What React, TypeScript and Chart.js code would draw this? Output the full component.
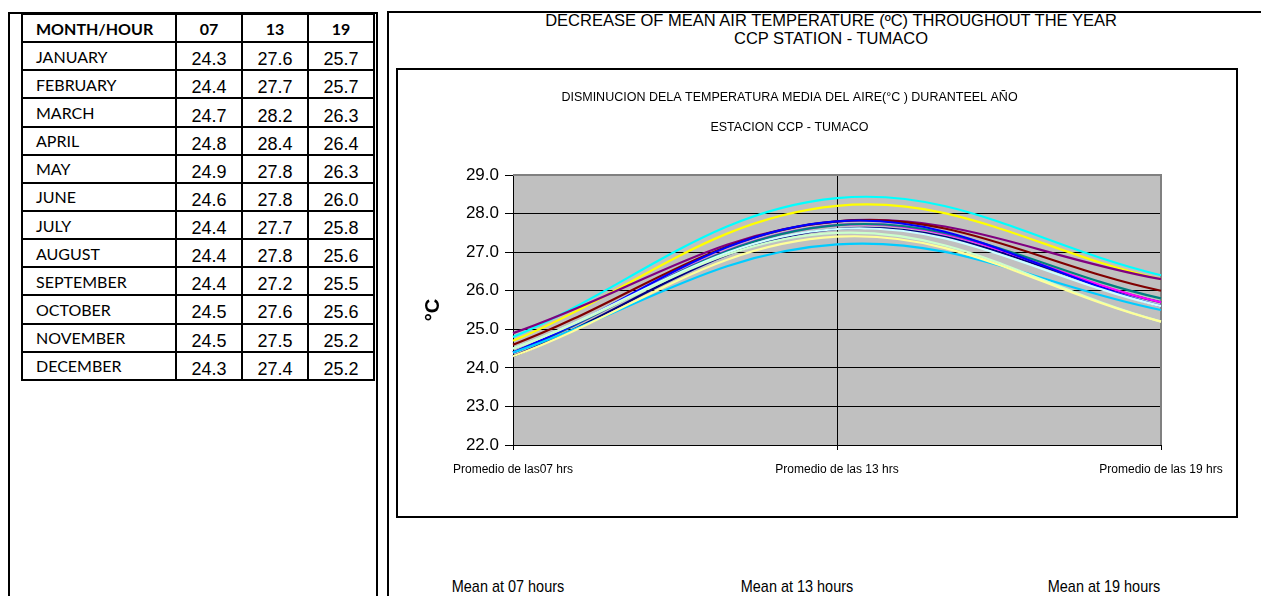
import React, { useEffect, useRef } from "react";
import { Chart, registerables } from "chart.js";

Chart.register(...registerables);

const months = ["JANUARY", "FEBRUARY", "MARCH", "APRIL", "MAY", "JUNE", "JULY", "AUGUST", "SEPTEMBER", "OCTOBER", "NOVEMBER", "DECEMBER"];
const hourHeaders = ["07", "13", "19"];
const xCategories = ["Promedio de las07 hrs", "Promedio de las 13 hrs", "Promedio de las 19 hrs"];
const meanLabels = ["Mean at 07 hours", "Mean at 13 hours", "Mean at 19 hours"];
const at07 = [24.3, 24.4, 24.7, 24.8, 24.9, 24.6, 24.4, 24.4, 24.4, 24.5, 24.5, 24.3];
const at13 = [27.6, 27.7, 28.2, 28.4, 27.8, 27.8, 27.7, 27.8, 27.2, 27.6, 27.5, 27.4];
const at19 = [25.7, 25.7, 26.3, 26.4, 26.3, 26.0, 25.8, 25.6, 25.5, 25.6, 25.2, 25.2];
const seriesColors = ["#000080", "#FF00FF", "#FFFF00", "#00FFFF", "#800080", "#800000", "#008080", "#0000FF", "#00CCFF", "#CCFFFF", "#CCFFCC", "#FFFF99"];
const yMin = 22;
const yMax = 29;

const mainTitle = ["DECREASE OF MEAN AIR TEMPERATURE (ºC) THROUGHOUT THE YEAR", "CCP STATION - TUMACO"];
const innerTitle = "DISMINUCION DELA TEMPERATURA MEDIA DEL AIRE(°C ) DURANTEEL AÑO";
const innerSubtitle = "ESTACION CCP - TUMACO";

const ARIAL = "'Liberation Sans', Arial, sans-serif";
const CALIBRI = "Lato, 'Open Sans', sans-serif";

const plotBg = {
  id: "plotBg",
  beforeDraw(chart: any) {
    const { ctx, chartArea } = chart;
    const { left, top, right, bottom } = chartArea;
    ctx.save();
    ctx.fillStyle = "#C0C0C0";
    ctx.fillRect(left, top, right - left, bottom - top);
    ctx.restore();
  },
  beforeDatasetsDraw(chart: any) {
    const { ctx, chartArea } = chart;
    const { left, top, right, bottom } = chartArea;
    ctx.save();
    ctx.strokeStyle = "#808080";
    ctx.lineWidth = 2;
    ctx.beginPath();
    ctx.moveTo(left, top);
    ctx.lineTo(right, top);
    ctx.lineTo(right, bottom);
    ctx.stroke();
    ctx.restore();
  },
};

export default function App() {
  const canvasRef = useRef<HTMLCanvasElement>(null);

  useEffect(() => {
    if (!canvasRef.current) return;
    const datasets = months.map((m, i) => ({
      label: m,
      data: [at07[i], at13[i], at19[i]],
      borderColor: seriesColors[i],
      backgroundColor: seriesColors[i],
      borderWidth: 2.2,
      pointRadius: 0,
      tension: 0.38,
      fill: false,
      order: months.length - 1 - i,
    }));
    const chart = new Chart(canvasRef.current, {
      type: "line",
      data: { labels: xCategories, datasets },
      plugins: [plotBg],
      options: {
        animation: false,
        responsive: false,
        devicePixelRatio: 1,
        layout: { padding: { left: 20, right: 75, top: 0, bottom: 0 } },
        plugins: {
          legend: { display: false },
          tooltip: { enabled: false },
          title: {
            display: true,
            text: innerTitle,
            color: "#000",
            font: { family: ARIAL, size: 12.5, weight: "normal" },
            padding: { top: 20, bottom: 8 },
          },
          subtitle: {
            display: true,
            text: innerSubtitle,
            color: "#000",
            font: { family: ARIAL, size: 12.5, weight: "normal" },
            padding: { top: 7, bottom: 40 },
          },
        },
        scales: {
          x: {
            offset: false,
            afterFit: (scale: any) => {
              scale.height = 71;
            },
            grid: {
              color: (ctx: any) => (ctx.index === 1 ? "#000" : "rgba(0,0,0,0)"),
              tickColor: "#000",
              tickLength: 5,
              lineWidth: 1,
            },
            border: { color: "#000", width: 1 },
            ticks: {
              color: "#000",
              font: { family: ARIAL, size: 12 },
              padding: 12,
              maxRotation: 0,
              autoSkip: false,
            },
          },
          y: {
            min: yMin,
            max: yMax,
            afterFit: (scale: any) => {
              scale.width = 95;
            },
            grid: {
              color: (ctx: any) => (ctx.tick && ctx.tick.value === yMax ? "rgba(0,0,0,0)" : "#000"),
              tickColor: "#000",
              tickLength: 8,
              lineWidth: 1,
            },
            border: { color: "#000", width: 1 },
            ticks: {
              stepSize: 1,
              color: "#000",
              padding: 6,
              font: { family: ARIAL, size: 17 },
              callback: (v: any) => Number(v).toFixed(1),
            },
            title: {
              display: true,
              text: "°C",
              color: "#000",
              font: { family: ARIAL, size: 20, weight: "bold" },
              padding: { top: 3, bottom: 0 },
            },
          },
        },
      },
    } as any);
    return () => chart.destroy();
  }, []);

  const line = (left: number, top: number, width: number, height: number, key: string) => (
    <div key={key} style={{ position: "absolute", left, top, width, height, background: "#000" }} />
  );

  const cell: React.CSSProperties = {
    borderRight: "2px solid #000",
    borderBottom: "2px solid #000",
    boxSizing: "border-box",
    display: "flex",
    alignItems: "center",
    overflow: "hidden",
    whiteSpace: "nowrap",
  };

  const cells: React.ReactNode[] = [];
  cells.push(
    <div key="h0" style={{ ...cell, paddingLeft: 13, fontFamily: CALIBRI, fontWeight: 700, fontSize: 16 }}>MONTH/HOUR</div>
  );
  hourHeaders.forEach((h, j) =>
    cells.push(
      <div key={"h" + (j + 1)} style={{ ...cell, justifyContent: "center", fontFamily: CALIBRI, fontWeight: 700, fontSize: 16 }}>{h}</div>
    )
  );
  months.forEach((m, i) => {
    cells.push(
      <div key={"m" + i} style={{ ...cell, paddingLeft: 13, fontFamily: CALIBRI, fontSize: 16 }}>{m}</div>
    );
    [at07[i], at13[i], at19[i]].forEach((v, j) =>
      cells.push(
        <div key={"v" + i + "_" + j} style={{ ...cell, justifyContent: "center", paddingTop: 7, fontFamily: ARIAL, fontSize: 18 }}>{v.toFixed(1)}</div>
      )
    );
  });

  return (
    <div style={{ position: "absolute", left: 0, top: 0, width: 1261, height: 596, overflow: "hidden", background: "#fff", color: "#000" }}>
      {line(8, 12, 370, 2, "t1")}
      {line(8, 12, 2, 584, "l1")}
      {line(376, 12, 2, 584, "r1")}
      {line(387, 11, 874, 2, "t2")}
      {line(387, 11, 2, 585, "l2")}

      <div
        style={{
          position: "absolute",
          left: 21,
          top: 13,
          display: "grid",
          gridTemplateColumns: "154px 66px 66px 66px",
          gridAutoRows: "28.15px",
          borderTop: "2px solid #000",
          borderLeft: "2px solid #000",
          color: "#000",
        }}
      >
        {cells}
      </div>

      <div
        style={{
          position: "absolute",
          left: 481,
          top: 11,
          width: 700,
          textAlign: "center",
          fontFamily: ARIAL,
          fontSize: 16.5,
          lineHeight: "18px",
        }}
      >
        <div>{mainTitle[0]}</div>
        <div>{mainTitle[1]}</div>
      </div>

      <div
        style={{
          position: "absolute",
          left: 396,
          top: 68,
          width: 842,
          height: 450,
          border: "2px solid #000",
          boxSizing: "border-box",
          background: "#fff",
        }}
      >
        <canvas ref={canvasRef} width={838} height={446} style={{ display: "block", width: 838, height: 446 }} />
      </div>

      {meanLabels.map((t, i) => (
        <div
          key={t}
          style={{
            position: "absolute",
            left: [508, 797, 1104][i] - 100,
            top: 576,
            width: 200,
            textAlign: "center",
            fontFamily: ARIAL,
            fontSize: 17,
            lineHeight: "22px",
            transform: "scaleX(0.85)",
          }}
        >
          {t}
        </div>
      ))}
    </div>
  );
}
